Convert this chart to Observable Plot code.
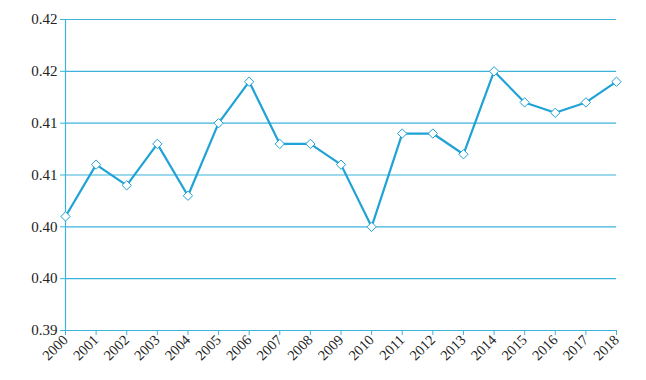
<!DOCTYPE html>
<html>
<head>
<meta charset="utf-8">
<script src="https://cdn.jsdelivr.net/npm/d3@7"></script>
<script src="https://cdn.jsdelivr.net/npm/@observablehq/plot@0.6"></script>
<style>
  html, body { margin: 0; padding: 0; background: #fff; overflow: hidden; }
  #chart svg { display: block; }
</style>
</head>
<body>
<div id="chart"></div>
<script>
const years = [2000, 2001, 2002, 2003, 2004, 2005, 2006, 2007, 2008, 2009, 2010, 2011, 2012, 2013, 2014, 2015, 2016, 2017, 2018];
const values = [0.401, 0.406, 0.404, 0.408, 0.403, 0.410, 0.414, 0.408, 0.408, 0.406, 0.400, 0.409, 0.409, 0.407, 0.415, 0.412, 0.411, 0.412, 0.414];
const yTicks = [0.39, 0.395, 0.40, 0.405, 0.41, 0.415, 0.42];
const yTickLabels = ["0.39", "0.40", "0.40", "0.41", "0.41", "0.42", "0.42"];

const data = years.map((y, i) => ({year: y, value: values[i]}));
const blue = "#1fa2d5";
const gridBlue = "#3db3da";

const chart = Plot.plot({
  width: 646,
  height: 380,
  marginLeft: 65,
  marginRight: 30,
  marginTop: 19,
  marginBottom: 50,
  style: {fontFamily: "Liberation Serif, Times New Roman, serif", background: "#fff", color: "#222", maxWidth: "none"},
  x: {type: "point", domain: years, padding: 0, round: false, label: null},
  y: {domain: [0.39, 0.42], label: null},
  marks: [
    Plot.gridY(yTicks, {stroke: gridBlue, strokeOpacity: 1, strokeWidth: 1.2}),
    Plot.ruleX([years[0]], {stroke: gridBlue, strokeWidth: 1.2}),
    Plot.axisY({ticks: yTicks, tickSize: 5, stroke: gridBlue, strokeOpacity: 1, tickPadding: 3, fontSize: 15, fill: "#222",
      tickFormat: d => yTickLabels[yTicks.indexOf(d)]}),
    Plot.axisX({ticks: years, tickSize: 5, stroke: gridBlue, strokeOpacity: 1, tickRotate: -45, fontSize: 14.5, fill: "#222",
      tickPadding: 2, tickFormat: d => String(d)}),
    Plot.line(data, {x: "year", y: "value", stroke: blue, strokeWidth: 2.2}),
    Plot.dot(data, {x: "year", y: "value", symbol: "diamond2", r: 4.2, fill: "#fff", stroke: blue, strokeWidth: 1})
  ]
});
document.getElementById("chart").appendChild(chart);
</script>
</body>
</html>
